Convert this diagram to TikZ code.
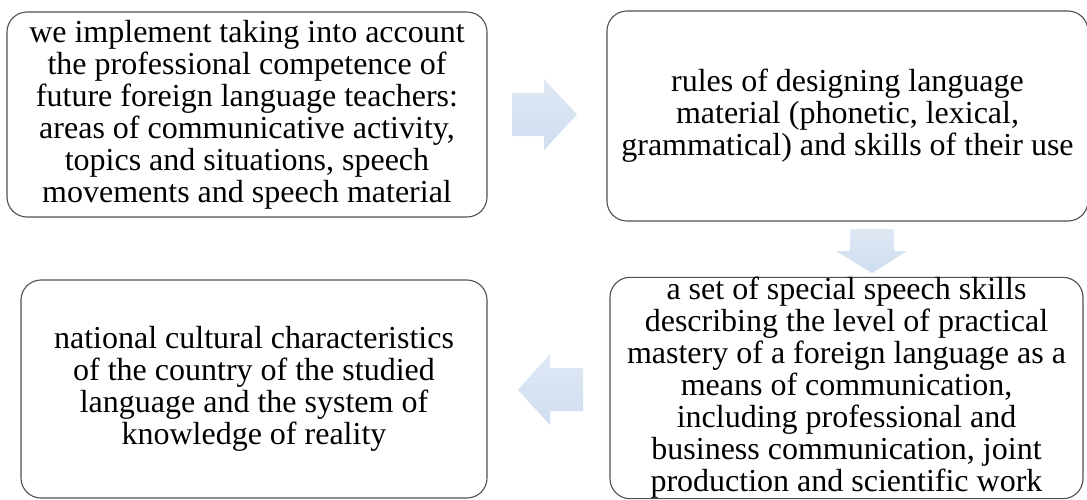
\documentclass[tikz,border=0pt]{standalone}
\usepackage{fontspec}
\setmainfont{Liberation Serif}
\definecolor{boxline}{RGB}{80,80,80}
\definecolor{arrtop}{RGB}{224,232,244}
\definecolor{arrbot}{RGB}{207,221,240}
\begin{document}
\begin{tikzpicture}[x=1pt,y=-1pt,
  stagebox/.style={draw=boxline, line width=1.1pt, rounded corners=20pt, inner sep=0pt,
    align=center, font=\fontsize{32}{32}\selectfont},
  blockarrow/.style={top color=arrtop, bottom color=arrbot, draw=none}]
\useasboundingbox (0,0) rectangle (1087,499);
\fill[white] (0,0) rectangle (1087,499);
\node[stagebox, minimum width=480pt, minimum height=205pt] (b1) at (247,114.5)
  {we implement taking into account\\the professional competence of\\future foreign language teachers:\\areas of communicative activity,\\topics and situations, speech\\movements and speech material};
\node[stagebox, minimum width=481pt, minimum height=210pt] (b2) at (847.5,116)
  {rules of designing language\\material (phonetic, lexical,\\grammatical) and skills of their use};
\node[stagebox, minimum width=473pt, minimum height=221pt] (b3) at (846.5,388)
  {a set of special speech skills\\describing the level of practical\\mastery of a foreign language as a\\means of communication,\\including professional and\\business communication, joint\\production and scientific work};
\node[stagebox, minimum width=466pt, minimum height=218pt] (b4) at (254,389)
  {national cultural characteristics\\of the country of the studied\\language and the system of\\knowledge of reality};
\path[blockarrow] (512,93) -- (544,93) -- (544,79) -- (577,114.5) -- (544,150) -- (544,136) -- (512,136) -- cycle;
\path[blockarrow] (850,229) -- (894,229) -- (894,251) -- (907,251) -- (872,273) -- (836,251) -- (850,251) -- cycle;
\path[blockarrow] (583,368) -- (550,368) -- (550,354) -- (518,390) -- (550,425) -- (550,411) -- (583,411) -- cycle;
\end{tikzpicture}
\end{document}
